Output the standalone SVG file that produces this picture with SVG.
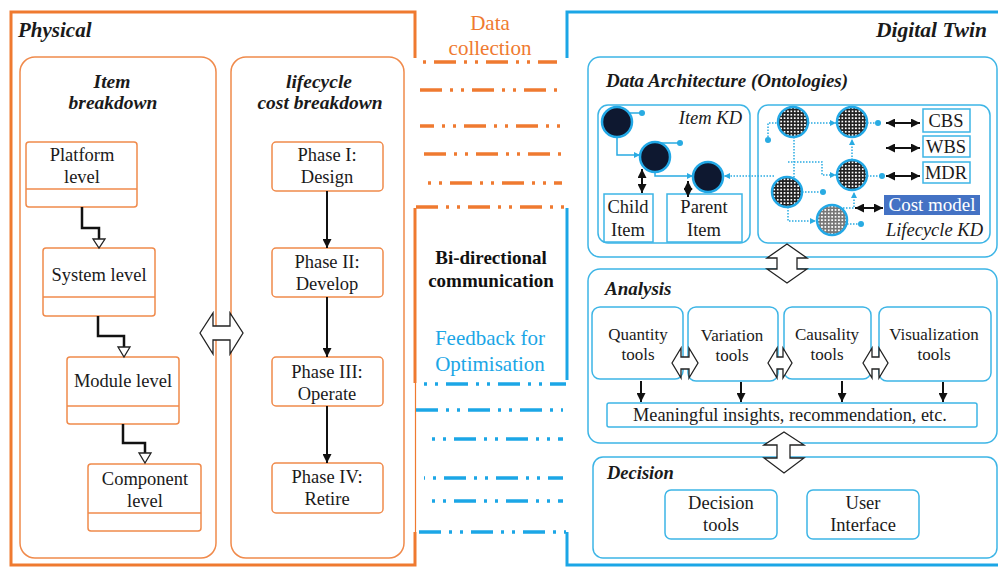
<svg xmlns="http://www.w3.org/2000/svg" width="998" height="567" viewBox="0 0 998 567" font-family="'Liberation Serif', 'Times New Roman', 'DejaVu Serif', serif">
<style>
text{font-family:'Liberation Serif','Times New Roman','DejaVu Serif',serif;fill:#1a1a1a}
.t18{font-size:18.5px;text-anchor:middle}
.t17{font-size:17px;text-anchor:middle}
.bi{font-weight:bold;font-style:italic}
.ob{fill:#fff;stroke:#f08a4b;stroke-width:1.5}
.op{fill:none;stroke:#f08a4b;stroke-width:1.5}
.bb{fill:#fff;stroke:#3db5e6;stroke-width:1.5}
.bp{fill:none;stroke:#3db5e6;stroke-width:1.5}
.ofr{fill:none;stroke:#ef7a30;stroke-width:3}
.bfr{fill:none;stroke:#1ba6e6;stroke-width:3}
.odash{fill:none;stroke:#ef7a30;stroke-width:3.5;stroke-dasharray:22 8 3 8 3 8}
.bdash{fill:none;stroke:#1ba6e6;stroke-width:3.5;stroke-dasharray:22 8 3 8 3 8}
.conn{fill:none;stroke:#111;stroke-width:2.5}
.arr{fill:none;stroke:#111;stroke-width:2}
.hollow{fill:#fff;stroke:#222;stroke-width:1.3}
.dot{fill:none;stroke:#29abe2;stroke-width:1.5;stroke-dasharray:1.5 1.5}
.sol{fill:none;stroke:#29abe2;stroke-width:1.5}
.dk{fill:#0e1830;stroke:#22a8e6;stroke-width:2.5}
.gr{fill:url(#grid);stroke:#22a8e6;stroke-width:2.5}
.grl{fill:url(#gridl);stroke:#22a8e6;stroke-width:2.5}
.bd{fill:#29abe2}
</style>
<defs>
<marker id="ah" viewBox="0 0 10 10" refX="10" refY="5" markerWidth="9" markerHeight="9" markerUnits="userSpaceOnUse" orient="auto-start-reverse"><path d="M0,0 L10,5 L0,10 z" fill="#111"/></marker>
<marker id="ab" viewBox="0 0 10 10" refX="10" refY="5" markerWidth="6" markerHeight="6" markerUnits="userSpaceOnUse" orient="auto-start-reverse"><path d="M0,0 L10,5 L0,10 z" fill="#29abe2"/></marker>
<pattern id="grid" width="3.4" height="3.4" patternUnits="userSpaceOnUse"><rect width="3.4" height="3.4" fill="#fff"/><path d="M0 0.8H3.4M0.8 0V3.4" stroke="#222" stroke-width="1.7"/></pattern>
<pattern id="gridl" width="3.4" height="3.4" patternUnits="userSpaceOnUse"><rect width="3.4" height="3.4" fill="#fff"/><path d="M0 0.8H3.4M0.8 0V3.4" stroke="#777" stroke-width="1.7"/></pattern>
</defs>
<rect width="998" height="567" fill="#fff"/>

<!-- Frames -->
<g id="physical-frame">
<path class="ofr" d="M415 58V12H11V565H415V532"/>
<path class="ofr" d="M415 208V383"/>
<path d="M415.5 383V532" fill="none" stroke="#ef7a30" stroke-width="1.2"/>
<text x="18" y="37" class="bi" style="font-size:21px">Physical</text>
</g>
<g id="digital-frame">
<path class="bfr" d="M567 58V12H999"/>
<path class="bfr" d="M567 208V380"/>
<path class="bfr" d="M567 532V565H999"/>
<text x="987" y="37" class="bi" style="font-size:21.5px;text-anchor:end">Digital Twin</text>
</g>

<!-- Middle -->
<g id="data-collection">
<text x="490" y="30" style="font-size:21px;text-anchor:middle;fill:#ef7a30">Data</text>
<text x="490" y="55" style="font-size:21px;text-anchor:middle;fill:#ef7a30">collection</text>
<path class="odash" d="M420 62H557" style="stroke-dashoffset:-14"/>
<path class="odash" d="M420 90H562"/>
<path class="odash" d="M420 126H562" style="stroke-dashoffset:8"/>
<path class="odash" d="M424 154H562"/>
<path class="odash" d="M420 183H562" style="stroke-dashoffset:-30"/>
<path class="odash" d="M416 207H566" style="stroke-dashoffset:0"/>
</g>
<g id="bidirectional">
<text x="491" y="264" class="t18" style="font-size:19px;font-weight:bold;fill:#111">Bi-directional</text>
<text x="491" y="287" class="t18" style="font-size:19px;font-weight:bold;fill:#111">communication</text>
</g>
<g id="feedback">
<text x="490" y="345" style="font-size:21px;text-anchor:middle;fill:#1ba6e6">Feedback for</text>
<text x="490" y="371" style="font-size:21px;text-anchor:middle;fill:#1ba6e6">Optimisation</text>
<path class="bdash" d="M416 384H566" style="stroke-dashoffset:-30"/>
<path class="bdash" d="M416 410H563"/>
<path class="bdash" d="M424 439H563" style="stroke-dashoffset:-30"/>
<path class="bdash" d="M424 478H563" style="stroke-dashoffset:-20"/>
<path class="bdash" d="M424 501H563" style="stroke-dashoffset:-30"/>
<path class="bdash" d="M416 532H566" style="stroke-dashoffset:-3"/>
</g>

<!-- Physical panels -->
<g id="item-breakdown">
<rect class="op" x="20" y="57" width="196" height="501" rx="15"/>
<text x="112" y="88" class="t18 bi" style="font-size:19.5px">Item</text>
<text x="113" y="109" class="t18 bi" style="font-size:19.5px">breakdown</text>
</g>
<g id="platform-level">
<rect class="ob" x="26" y="142" width="111" height="65" rx="3"/>
<path class="op" d="M26 189H137"/>
<text x="82" y="161" class="t18">Platform</text>
<text x="82" y="183" class="t18">level</text>
</g>
<g id="system-level">
<rect class="ob" x="43" y="248" width="112" height="68" rx="3"/>
<path class="op" d="M43 297H155"/>
<text x="99" y="281" class="t18">System level</text>
</g>
<g id="module-level">
<rect class="ob" x="67" y="357" width="112" height="67" rx="3"/>
<path class="op" d="M67 406H179"/>
<text x="123" y="387" class="t18">Module level</text>
</g>
<g id="component-level">
<rect class="ob" x="88" y="464" width="113" height="67" rx="3"/>
<path class="op" d="M88 513H201"/>
<text x="145" y="485" class="t18">Component</text>
<text x="145" y="507" class="t18">level</text>
</g>

<g id="lifecycle-breakdown">
<rect class="op" x="231" y="57" width="173" height="501" rx="15"/>
<text x="319" y="88" class="t18 bi" style="font-size:19.5px">lifecycle</text>
<text x="320" y="109" class="t18 bi" style="font-size:19.5px">cost breakdown</text>
</g>
<g id="phase1"><rect class="ob" x="272" y="142" width="111" height="49" rx="4"/>
<text x="327" y="161" class="t18">Phase I:</text><text x="327" y="183" class="t18">Design</text></g>
<g id="phase2"><rect class="ob" x="272" y="248" width="111" height="49" rx="4"/>
<text x="327" y="268" class="t18">Phase II:</text><text x="327" y="290" class="t18">Develop</text></g>
<g id="phase3"><rect class="ob" x="272" y="357" width="111" height="49" rx="4"/>
<text x="327" y="378" class="t18">Phase III:</text><text x="327" y="400" class="t18">Operate</text></g>
<g id="phase4"><rect class="ob" x="272" y="463" width="111" height="50" rx="4"/>
<text x="327" y="483" class="t18">Phase IV:</text><text x="327" y="505" class="t18">Retire</text></g>

<!-- Digital twin: Data architecture -->
<g id="data-architecture">
<rect class="bp" x="588" y="57" width="409" height="200" rx="12"/>
<text x="606" y="87" class="bi" style="font-size:19px">Data Architecture (Ontologies)</text>
</g>
<g id="item-kd">
<rect class="bp" x="598" y="105" width="152" height="138" rx="10"/>
<text x="742" y="124" style="font-size:18.5px;font-style:italic;text-anchor:end">Item KD</text>
<path class="sol" d="M617 113H642"/><circle class="bd" cx="642" cy="113" r="3"/>
<path class="sol" d="M655 143H680"/><circle class="bd" cx="680" cy="143" r="3"/>
<path class="sol" d="M617 130V155H640" marker-end="url(#ab)"/>
<path class="sol" d="M655 165V176H693" marker-end="url(#ab)"/>
<circle class="dk" cx="617" cy="122" r="15"/>
<circle class="dk" cx="655" cy="157" r="15"/>
<circle class="dk" cx="708" cy="177" r="15"/>
</g>
<g id="child-item"><rect class="bp" x="604" y="194" width="49" height="48"/>
<text x="628" y="213" class="t18">Child</text><text x="628" y="236" class="t18">Item</text></g>
<g id="parent-item"><rect class="bp" x="667" y="194" width="75" height="48"/>
<text x="704" y="213" class="t18">Parent</text><text x="704" y="236" class="t18">Item</text></g>

<g id="lifecycle-kd">
<rect class="bp" x="758" y="105" width="232" height="138" rx="10"/>
<text x="983" y="236" style="font-size:18.5px;font-style:italic;text-anchor:end">Lifecycle KD</text>
<path class="dot" d="M768 140V123H778"/><circle class="bd" cx="768" cy="140" r="3"/>
<path class="dot" d="M808 123H836" marker-end="url(#ab)"/>
<path class="dot" d="M867 123H878"/><circle class="bd" cx="878" cy="123" r="3"/>
<path class="dot" d="M852 160V139" marker-end="url(#ab)"/>
<path class="dot" d="M794 137V178"/>
<path class="dot" d="M788 162H822V175H836" marker-end="url(#ab)"/>
<path class="dot" d="M867 176H882"/><circle class="bd" cx="882" cy="176" r="3"/>
<path class="dot" d="M774 176H724" marker-end="url(#ab)"/>
<path class="dot" d="M802 192H823"/><circle class="bd" cx="823" cy="192" r="3"/>
<path class="dot" d="M788 207V221H816" marker-end="url(#ab)"/>
<path class="dot" d="M847 224H861"/><circle class="bd" cx="861" cy="224" r="3"/>
<path class="dot" d="M843 208H854V192" marker-end="url(#ab)"/>
<circle class="gr" cx="793" cy="122" r="15"/>
<circle class="gr" cx="852" cy="122" r="15"/>
<circle class="gr" cx="852" cy="175" r="15"/>
<circle class="gr" cx="787" cy="192" r="15"/>
<circle class="grl" cx="832" cy="220" r="15"/>
</g>
<g id="cbs"><rect class="bb" x="923" y="109" width="47" height="23"/><text x="946" y="127" class="t18">CBS</text></g>
<g id="wbs"><rect class="bb" x="923" y="136" width="47" height="21"/><text x="946" y="153" class="t18">WBS</text></g>
<g id="mdr"><rect class="bb" x="923" y="162" width="47" height="21"/><text x="946" y="179" class="t18">MDR</text></g>
<g id="cost-model"><rect x="884" y="195" width="96" height="20" fill="#4472c4"/><text x="932" y="211" class="t18" style="fill:#fff;font-size:19px">Cost model</text></g>

<!-- Analysis -->
<g id="analysis">
<rect class="bp" x="588" y="269" width="409" height="174" rx="12"/>
<text x="605" y="295" class="bi" style="font-size:19px">Analysis</text>
</g>
<g id="quantity-tools"><rect class="bb" x="592" y="307" width="91" height="72" rx="8"/>
<text x="638" y="340" class="t17">Quantity</text><text x="638" y="360" class="t17">tools</text></g>
<g id="variation-tools"><rect class="bb" x="688" y="307" width="90" height="74" rx="8"/>
<text x="732" y="341" class="t17">Variation</text><text x="732" y="361" class="t17">tools</text></g>
<g id="causality-tools"><rect class="bb" x="784" y="307" width="87" height="72" rx="8"/>
<text x="827" y="340" class="t17">Causality</text><text x="827" y="360" class="t17">tools</text></g>
<g id="visualization-tools"><rect class="bb" x="879" y="307" width="112" height="74" rx="8"/>
<text x="934" y="340" class="t17">Visualization</text><text x="934" y="360" class="t17">tools</text></g>
<g id="insights"><rect class="bb" x="607" y="403" width="370" height="24" rx="2"/>
<text x="790" y="421" class="t17" style="font-size:18.3px">Meaningful insights, recommendation, etc.</text></g>

<!-- Decision -->
<g id="decision">
<rect class="bp" x="593" y="457" width="404" height="101" rx="10"/>
<text x="607" y="479" class="bi" style="font-size:18.5px">Decision</text>
</g>
<g id="decision-tools"><rect class="bb" x="665" y="490" width="112" height="49" rx="6"/>
<text x="721" y="509" class="t18">Decision</text><text x="721" y="531" class="t18">tools</text></g>
<g id="user-interface"><rect class="bb" x="807" y="490" width="112" height="49" rx="6"/>
<text x="863" y="509" class="t18">User</text><text x="863" y="531" class="t18">Interface</text></g>

<!-- Connectors -->
<g id="connectors">
<path class="conn" d="M82 207V228H99V239"/><polygon class="hollow" points="93,239 105,239 99,248"/>
<path class="conn" d="M98 316V336H124V347"/><polygon class="hollow" points="118,347 130,347 124,357"/>
<path class="conn" d="M123 424V443H145V453"/><polygon class="hollow" points="139,453 151,453 145,463"/>
<path class="arr" d="M327 191V248" marker-end="url(#ah)"/>
<path class="arr" d="M327 297V357" marker-end="url(#ah)"/>
<path class="arr" d="M327 406V463" marker-end="url(#ah)"/>
<polygon class="hollow" points="200,333 213,313 213,326 230,326 230,313 243,333 230,354 230,340 213,340 213,354"/>
<path class="arr" d="M642 169V193" marker-start="url(#ah)" marker-end="url(#ah)"/>
<path class="arr" d="M688 181V197" marker-start="url(#ah)" marker-end="url(#ah)"/>
<path class="arr" d="M886 123H920" marker-start="url(#ah)" marker-end="url(#ah)"/>
<path class="arr" d="M886 148H920" marker-start="url(#ah)" marker-end="url(#ah)"/>
<path class="arr" d="M886 176H920" marker-start="url(#ah)" marker-end="url(#ah)"/>
<path class="arr" d="M855 208H883" marker-start="url(#ah)" marker-end="url(#ah)"/>
<polygon class="hollow" points="787,244 807,258 797,258 797,269 807,269 787,283 767,269 777,269 777,258 767,258"/>
<polygon class="hollow" points="672,363 681,348 681,357 689,357 689,348 698,363 689,378 689,369 681,369 681,378"/>
<polygon class="hollow" points="768,363 777,348 777,357 783,357 783,348 792,363 783,378 783,369 777,369 777,378"/>
<polygon class="hollow" points="863,363 872,348 872,357 879,357 879,348 888,363 879,378 879,369 872,369 872,378"/>
<path class="arr" d="M641 381V402" marker-end="url(#ah)"/>
<path class="arr" d="M741 382V402" marker-end="url(#ah)"/>
<path class="arr" d="M842 381V402" marker-end="url(#ah)"/>
<path class="arr" d="M943 382V402" marker-end="url(#ah)"/>
<polygon class="hollow" points="784,432 804,445 790,445 790,458 804,458 784,473 764,458 777,458 777,445 764,445"/>
</g>
</svg>
